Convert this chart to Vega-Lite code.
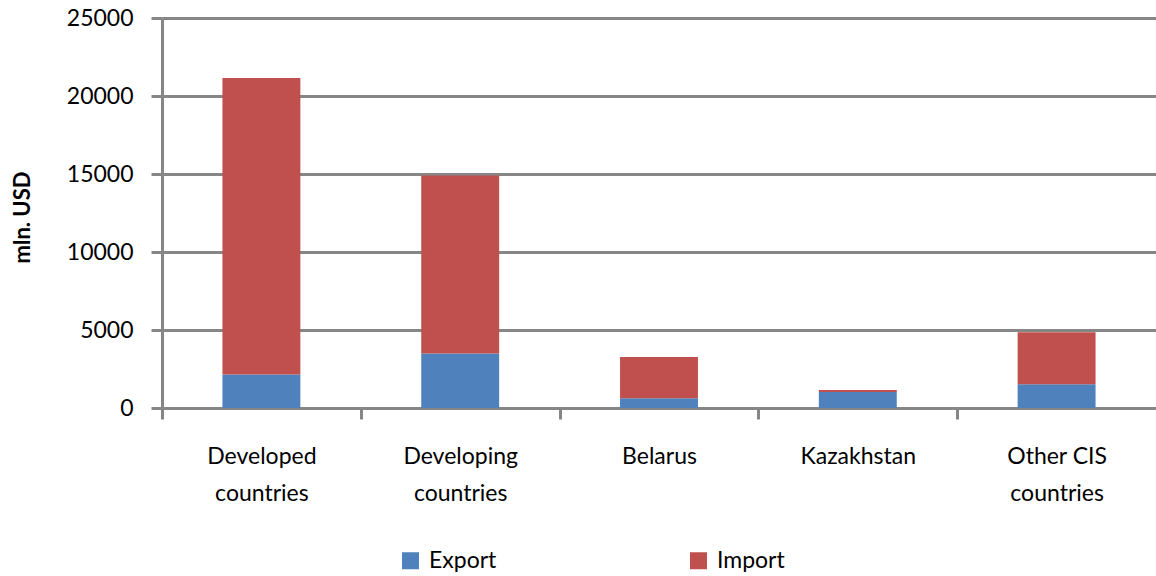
{
  "$schema": "https://vega.github.io/schema/vega-lite/v6.json",
  "width": 994,
  "height": 390,
  "autosize": {"type": "none"},
  "padding": {"left": 162, "top": 18, "right": 0, "bottom": 168},
  "background": "white",
  "config": {
    "view": {"stroke": null},
    "font": "Lato"
  },
  "data": {
    "values": [
      {"region": "Developed countries", "flow": "Export", "value": 2150},
      {"region": "Developed countries", "flow": "Import", "value": 19000},
      {"region": "Developing countries", "flow": "Export", "value": 3500},
      {"region": "Developing countries", "flow": "Import", "value": 11400},
      {"region": "Belarus", "flow": "Export", "value": 620},
      {"region": "Belarus", "flow": "Import", "value": 2650},
      {"region": "Kazakhstan", "flow": "Export", "value": 1030},
      {"region": "Kazakhstan", "flow": "Import", "value": 130},
      {"region": "Other CIS countries", "flow": "Export", "value": 1520},
      {"region": "Other CIS countries", "flow": "Import", "value": 3330}
    ]
  },
  "mark": {"type": "bar"},
  "encoding": {
    "x": {
      "field": "region",
      "type": "nominal",
      "sort": null,
      "scale": {"paddingInner": 0.608, "paddingOuter": 0.304},
      "axis": {
        "title": null,
        "labelAngle": 0,
        "labelFont": "Lato",
        "labelFontSize": 23,
        "labelColor": "#000000",
        "labelLineHeight": 37,
        "labelPadding": 26,
        "labelExpr": "datum.label == 'Other CIS countries' ? ['Other CIS', 'countries'] : split(datum.label, ' ')",
        "tickOffset": -99.4,
        "labelOffset": 99.4,
        "tickSize": 11,
        "tickWidth": 3,
        "tickColor": "#868686",
        "domainColor": "#868686",
        "domainWidth": 3,
        "grid": false
      }
    },
    "y": {
      "field": "value",
      "type": "quantitative",
      "aggregate": "sum",
      "stack": "zero",
      "scale": {"domain": [0, 25000], "nice": false},
      "axis": {
        "title": "mln. USD",
        "titleFont": "Lato",
        "titleFontSize": 22,
        "titleFontWeight": "bold",
        "titleColor": "#000000",
        "titleX": -133,
        "titleY": 199,
        "titleBaseline": "alphabetic",
        "values": [0, 5000, 10000, 15000, 20000, 25000],
        "format": "d",
        "labelFont": "Lato",
        "labelFontSize": 23,
        "labelColor": "#000000",
        "labelPadding": 18,
        "tickSize": 11,
        "tickWidth": 3,
        "tickColor": "#868686",
        "domainColor": "#868686",
        "domainWidth": 3,
        "grid": true,
        "gridColor": "#868686",
        "gridWidth": 3
      }
    },
    "color": {
      "field": "flow",
      "type": "nominal",
      "scale": {"domain": ["Export", "Import"], "range": ["#4F81BD", "#C0504D"]},
      "legend": {
        "title": null,
        "orient": "none",
        "direction": "horizontal",
        "legendX": 237,
        "legendY": 531,
        "padding": 0,
        "symbolType": "square",
        "symbolSize": 289,
        "symbolStrokeWidth": 0,
        "labelFont": "Lato",
        "labelFontSize": 23,
        "labelColor": "#000000",
        "labelOffset": 7,
        "columnPadding": 190
      }
    },
    "order": {"field": "flow", "sort": "ascending"}
  }
}
